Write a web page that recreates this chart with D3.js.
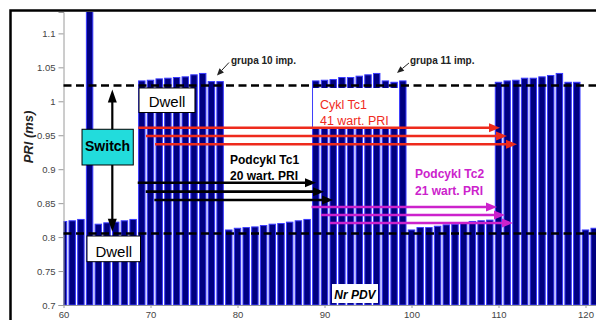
<!DOCTYPE html>
<html>
<head>
<meta charset="utf-8">
<script src="https://cdn.jsdelivr.net/npm/d3@7"></script>
<style>
  body { margin: 0; background: #fff; }
  svg { display: block; font-family: "Liberation Sans", Arial, sans-serif; }
</style>
</head>
<body>
<svg id="chart" width="596" height="320"></svg>
<script>
// PDV number and PRI value (ms) for each bar
const nrPdv = [60, 61, 62, 63, 64, 65, 66, 67, 68, 69, 70, 71, 72, 73, 74, 75, 76, 77, 78, 79,
  80, 81, 82, 83, 84, 85, 86, 87, 88, 89, 90, 91, 92, 93, 94, 95, 96, 97, 98, 99,
  100, 101, 102, 103, 104, 105, 106, 107, 108, 109, 110, 111, 112, 113, 114, 115, 116, 117, 118, 119,
  120, 121];
const pri = [0.823, 0.824, 0.826, 1.2, 0.819, 0.821, 0.822, 0.824, 0.826,
  1.030, 1.031, 1.033, 1.034, 1.035, 1.036, 1.039, 1.041, 1.029, 1.029,
  0.8105, 0.813, 0.814, 0.815, 0.817, 0.819, 0.820, 0.822, 0.824, 0.826,
  1.030, 1.031, 1.032, 1.035, 1.035, 1.037, 1.039, 1.041, 1.030, 1.028, 1.030,
  0.8105, 0.814, 0.814, 0.816, 0.818, 0.819, 0.820, 0.823, 0.824, 0.825,
  1.028, 1.030, 1.031, 1.034, 1.034, 1.036, 1.038, 1.041, 1.028, 1.028,
  0.8105, 0.813];
const xTicks = [60, 70, 80, 90, 100, 110, 120];
const yTicks = [0.7, 0.75, 0.8, 0.85, 0.9, 0.95, 1, 1.05, 1.1];
const yTickLabels = ["0.7", "0.75", "0.8", "0.85", "0.9", "0.95", "1", "1.05", "1.1"];
const dwellLevels = [1.0233, 0.8053];

// annotation arrows in data units: [x start, x tip, y]
const arrowsTc1 = [[68.60, 110.17, 0.9611], [69.48, 110.98, 0.9489], [70.52, 112.13, 0.9367]];
const arrowsSub1 = [[68.53, 89.02, 0.8801], [69.45, 89.94, 0.8669], [70.44, 90.98, 0.8546]];
const arrowsSub2 = [[88.51, 109.83, 0.8443], [89.60, 110.75, 0.8325], [90.63, 111.67, 0.8208]];

const width = 596, height = 320;
const svg = d3.select("#chart");

const x = d3.scaleLinear().domain([60, 120]).range([63.5, 585.5]);
const y = d3.scaleLinear().domain([0.7, 1.1315]).range([305, 12]);

svg.append("rect").attr("width", width).attr("height", height).attr("fill", "#fff");

svg.append("clipPath").attr("id", "plot")
  .append("rect")
  .attr("x", x(60)).attr("y", y(1.1315))
  .attr("width", width - x(60)).attr("height", y(0.7) - y(1.1315));

// bars
const bw = x(60.74) - x(60);
const bars = pri.map((v, i) => ({ n: nrPdv[i], v: v }));
svg.append("g").attr("clip-path", "url(#plot)")
  .selectAll("rect")
  .data(bars)
  .enter()
  .append("rect")
  .attr("x", (d) => x(d.n) - bw / 2)
  .attr("y", (d) => y(d.v))
  .attr("width", bw)
  .attr("height", (d) => y(0.7) - y(d.v))
  .attr("fill", "#000080")
  .attr("stroke", "#3a3aff")
  .attr("stroke-width", 1);

// axes
const axisColor = "#9a9a9a";
const yAxis = d3.axisLeft(y).tickValues(yTicks).tickSize(5).tickPadding(3)
  .tickFormat((d, i) => yTickLabels[i]);
const gy = svg.append("g").attr("transform", `translate(${x(60)},0)`).call(yAxis);
const xAxis = d3.axisBottom(x).tickValues(xTicks).tickSize(3).tickPadding(3);
const gx = svg.append("g").attr("transform", `translate(0,${y(0.7)})`).call(xAxis);
[gx, gy].forEach((g) => {
  g.select(".domain").attr("stroke", axisColor);
  g.selectAll(".tick line").attr("stroke", axisColor);
  g.selectAll(".tick text")
    .attr("fill", "#444")
    .style("font-size", "9.5px")
    .style("font-family", "\"Liberation Sans\", Arial, sans-serif");
});
gx.select(".domain").attr("d", `M${x(60)},0.5H${width}`);

// dwell levels
svg.append("g").selectAll("line")
  .data(dwellLevels)
  .enter()
  .append("line")
  .attr("x1", x(60)).attr("x2", width)
  .attr("y1", (d) => y(d)).attr("y2", (d) => y(d))
  .attr("stroke", "#000")
  .attr("stroke-width", 2.5)
  .attr("stroke-dasharray", "8,4.5");

// helper for horizontal arrows
const drawArrows = (list, color) => {
  const g = svg.append("g");
  list.forEach(([a, b, v]) => {
    const tip = x(b), yy = y(v), L = 11, W = 4.5;
    g.append("line")
      .attr("x1", x(a)).attr("x2", tip - L + 1)
      .attr("y1", yy).attr("y2", yy)
      .attr("stroke", color).attr("stroke-width", 2.6);
    g.append("path")
      .attr("d", `M${tip},${yy}L${tip - L},${yy - W}L${tip - L},${yy + W}Z`)
      .attr("fill", color);
  });
};

// label boxes
const box = (x0, x1, y0, y1, fill, stroke) => {
  svg.append("rect")
    .attr("x", x(x0)).attr("y", y(y0))
    .attr("width", x(x1) - x(x0)).attr("height", y(y1) - y(y0))
    .attr("fill", fill)
    .attr("stroke", stroke || "none")
    .attr("stroke-width", 1);
};
const label = (txt, xv, yv, opts) => {
  const o = Object.assign({ size: 12, weight: "normal", style: "normal", color: "#000", anchor: "start" }, opts);
  return svg.append("text")
    .attr("x", x(xv)).attr("y", y(yv))
    .attr("text-anchor", o.anchor)
    .attr("fill", o.color)
    .style("font-size", o.size + "px")
    .style("font-weight", o.weight)
    .style("font-style", o.style)
    .text(txt);
};

// Cykl Tc1 (white box over the bars)
box(88.68, 98.45, 1.0196, 0.9621, "#fff");
label("Cykl Tc1", 89.48, 0.9882, { color: "#f02a22", size: 12.5 });
label("41 wart. PRI", 89.48, 0.9658, { color: "#f02a22", size: 12.5 });

drawArrows(arrowsTc1, "#ee2a1c");
drawArrows(arrowsSub1, "#000");
drawArrows(arrowsSub2, "#cc22cc");

label("Podcykl Tc1", 79.14, 0.9077, { weight: "bold" });
label("20 wart. PRI", 79.14, 0.8841, { weight: "bold" });
label("Podcykl Tc2", 100.40, 0.8870, { weight: "bold", color: "#cc22cc" });
label("21 wart. PRI", 100.40, 0.8620, { weight: "bold", color: "#cc22cc" });

// vertical switch arrow
const sx = x(65.61), sTop = y(1.0174), sBot = y(0.8080);
svg.append("line").attr("x1", sx).attr("x2", sx)
  .attr("y1", sTop + 10).attr("y2", sBot - 10)
  .attr("stroke", "#000").attr("stroke-width", 2.2);
svg.append("path").attr("d", `M${sx},${sTop}L${sx - 4.5},${sTop + 13}L${sx + 4.5},${sTop + 13}Z`);
svg.append("path").attr("d", `M${sx},${sBot}L${sx - 4.5},${sBot - 13}L${sx + 4.5},${sBot - 13}Z`);

box(62.13, 68.02, 0.9588, 0.9062, "#22dcdc", "#000");
label("Switch", 65.07, 0.9275, { weight: "bold", size: 14, anchor: "middle" });

box(68.68, 75.11, 1.0196, 0.9835, "#fff", "#000");
label("Dwell", 71.9, 0.9920, { size: 15, anchor: "middle" });
box(62.70, 68.85, 0.8016, 0.7638, "#fff", "#000");
label("Dwell", 65.78, 0.7714, { size: 15, anchor: "middle" });

// group labels
label("grupa 10 imp.", 79.25, 1.0542, { weight: "bold", size: 10, color: "#222" });
label("grupa 11 imp.", 99.83, 1.0542, { weight: "bold", size: 10, color: "#222" });
[[79.02, 1.0571, 77.64, 1.038], [99.71, 1.0564, 98.33, 1.0417]].forEach(([a, b, c, d]) => {
  const x0 = x(a), y0 = y(b), x1 = x(c), y1 = y(d);
  const ang = Math.atan2(y1 - y0, x1 - x0), L = 7, W = 3;
  const bx = x1 - L * Math.cos(ang), by = y1 - L * Math.sin(ang);
  svg.append("line").attr("x1", x0).attr("y1", y0).attr("x2", bx).attr("y2", by)
    .attr("stroke", "#222").attr("stroke-width", 1);
  svg.append("path")
    .attr("d", `M${x1},${y1}L${bx - W * Math.sin(ang)},${by + W * Math.cos(ang)}L${bx + W * Math.sin(ang)},${by - W * Math.cos(ang)}Z`)
    .attr("fill", "#222");
});

// x label inside the plot
box(90.86, 96.15, 0.7309, 0.7029, "#fff");
label("Nr PDV", 93.5, 0.7088, { weight: "bold", style: "italic", size: 12, anchor: "middle" });

// y label
svg.append("text")
  .attr("transform", "translate(32.5,137) rotate(-90)")
  .attr("text-anchor", "middle")
  .attr("fill", "#222")
  .style("font-size", "13px")
  .style("font-weight", "bold")
  .style("font-style", "italic")
  .text("PRI (ms)");

// figure frame
svg.append("path")
  .attr("d", `M10.5,${height}V10.5H${width}`)
  .attr("fill", "none")
  .attr("stroke", "#000")
  .attr("stroke-width", 2.5);
</script>
</body>
</html>
